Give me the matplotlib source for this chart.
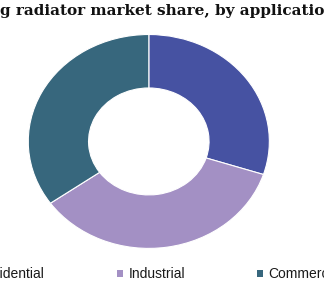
import matplotlib
matplotlib.use("Agg")
import matplotlib.pyplot as plt
from matplotlib.patches import Patch

categories = ["Residential", "Industrial", "Commercial"]
shares = [30.0, 35.2, 34.8]
colors = ["#4652A2", "#A390C4", "#37677D"]
title = "U.S. heating radiator market share, by application, 2016 (%)"

fig = plt.figure(figsize=(3.24, 3.0), dpi=100)
fig.patch.set_facecolor("white")

ax = fig.add_axes([0.0873, 0.172, 0.744, 0.713])
ax.pie(shares, colors=colors, startangle=90, counterclock=False, radius=1.0,
       wedgeprops=dict(width=0.5, edgecolor="white", linewidth=0.8))
ax.set_aspect("auto")
ax.set_xlim(-1, 1)
ax.set_ylim(-1, 1)
ax.axis("off")

fig.text(0.5 + 2.5 / 324, 1 - 11 / 300, title, ha="center", va="center",
         family="DejaVu Serif", fontweight="bold", fontsize=11.0, color="#111111")

handles = [Patch(facecolor=c, edgecolor="none") for c in colors]
fig.legend(handles, categories, loc="center", bbox_to_anchor=(154 / 324, 1 - 274 / 300),
           ncol=3, frameon=False, prop=dict(family="Liberation Sans", size=10),
           handlelength=0.4, handleheight=0.4, handletextpad=0.4, columnspacing=5.2,
           labelcolor="#1a1a1a")

fig.savefig("out.png", dpi=100, facecolor="white")
